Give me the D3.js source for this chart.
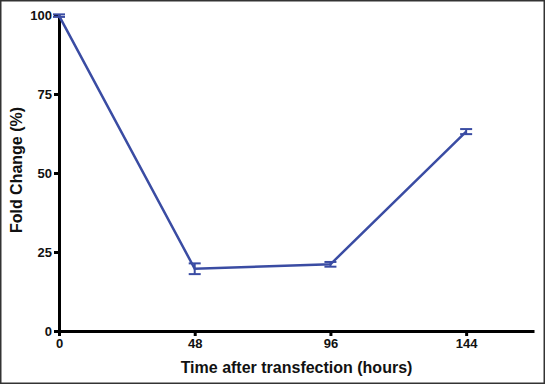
<!DOCTYPE html>
<meta charset="utf-8">
<style>
body { margin: 0; background: #fff; }
svg { display: block; }
.axis text { font: bold 13px "Liberation Sans", Arial, sans-serif; fill: #111; }
.axis path, .axis line { stroke: #000; stroke-width: 3px; }
.title { font: bold 16px "Liberation Sans", Arial, sans-serif; fill: #111; }
.line { fill: none; stroke: #3a4ca3; stroke-width: 2.5px; }
.err { stroke: #3a4ca3; stroke-width: 2px; fill: none; }
</style>
<body>
<script src="https://d3js.org/d3.v7.min.js"></script>
<script>

var hours = [0, 48, 96, 144];
var foldChange = [99.8, 19.7, 21.1, 63.1];
var errors = [0.4, 1.7, 0.75, 0.8];
var xTicks = [0, 48, 96, 144];
var yTicks = [0, 25, 50, 75, 100];

var W = 545, H = 384;
var margin = {top: 15, right: 11, bottom: 53, left: 59},
    width = W - margin.left - margin.right,
    height = H - margin.top - margin.bottom;

var svg = d3.select("body").append("svg")
    .attr("width", W)
    .attr("height", H);

svg.append("rect")
    .attr("x", 0.75).attr("y", 0.75)
    .attr("width", W - 1.5).attr("height", H - 1.5)
    .attr("fill", "none").attr("stroke", "#333").attr("stroke-width", 1.5);

var g = svg.append("g")
    .attr("transform", "translate(" + margin.left + "," + margin.top + ")");

var x = d3.scaleLinear().domain([0, 168]).range([0, width]);
var y = d3.scaleLinear().domain([0, 100]).range([height, 0]);

g.append("g")
    .attr("class", "axis axis--x")
    .attr("transform", "translate(0," + height + ")")
    .call(d3.axisBottom(x).tickValues(xTicks).tickSize(5).tickSizeOuter(0).tickPadding(3));

g.append("g")
    .attr("class", "axis axis--y")
    .call(d3.axisLeft(y).tickValues(yTicks).tickSize(5).tickSizeOuter(0).tickPadding(2));

var data = hours.map(function(h, i) { return {h: h, v: foldChange[i], e: errors[i]}; });

var line = d3.line()
    .x(function(d) { return x(d.h); })
    .y(function(d) { return y(d.v); });

g.append("path").datum(data).attr("class", "line").attr("d", line);

var eb = g.selectAll(".eb").data(data).enter().append("g").attr("class", "err");
eb.append("line")
    .attr("x1", function(d) { return x(d.h); }).attr("x2", function(d) { return x(d.h); })
    .attr("y1", function(d) { return y(d.v + d.e); }).attr("y2", function(d) { return y(d.v - d.e); });
[1, -1].forEach(function(s) {
  eb.append("line")
      .attr("x1", function(d) { return x(d.h) - 6; }).attr("x2", function(d) { return x(d.h) + 6; })
      .attr("y1", function(d) { return y(d.v + s * d.e); }).attr("y2", function(d) { return y(d.v + s * d.e); });
});

g.append("text")
    .attr("class", "title")
    .attr("x", width / 2)
    .attr("y", height + 42)
    .attr("text-anchor", "middle")
    .text("Time after transfection (hours)");

g.append("text")
    .attr("class", "title")
    .attr("transform", "rotate(-90)")
    .attr("x", -155)
    .attr("y", -37)
    .attr("text-anchor", "middle")
    .text("Fold Change (%)");

</script>
